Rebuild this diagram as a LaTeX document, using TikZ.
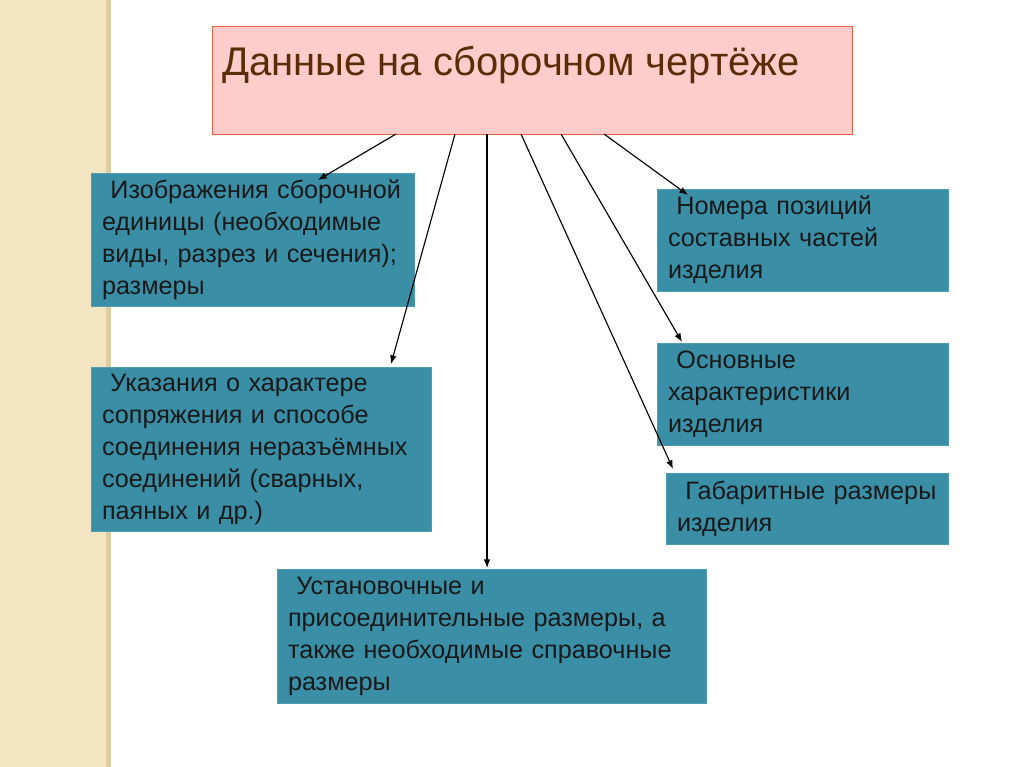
\documentclass[tikz,border=0pt]{standalone}
\usepackage{fontspec}
\setmainfont{Liberation Sans}
\usetikzlibrary{arrows.meta}
\definecolor{boxteal}{HTML}{3A8FA6}
\definecolor{boxedge}{HTML}{4C9CB2}
\definecolor{toppink}{HTML}{FFCCCC}
\definecolor{topedge}{HTML}{E5643F}
\definecolor{titlebrown}{HTML}{5B2C06}
\definecolor{stripbeige}{HTML}{F3E4C2}
\definecolor{stripedge}{HTML}{DDCCA2}
\begin{document}
\begin{tikzpicture}[x=0.75pt,y=-0.75pt,
  infobox/.style={fill=boxteal, draw=boxedge, line width=0.6pt, inner xsep=8.25pt, inner ysep=0pt,
    align=left, text=black!90, font=\fontsize{18.9pt}{24pt}\selectfont},
  topbox/.style={fill=toppink, draw=topedge, line width=0.75pt},
  titletext/.style={inner sep=0pt, text=titlebrown, font=\fontsize{30pt}{36pt}\selectfont},
  arr/.style={draw=black, line width=0.85pt, -{Latex[length=6.5pt,width=5pt]}}]
\useasboundingbox (0,0) rectangle (1024,767);
\fill[white] (0,0) rectangle (1024,767);
\fill[stripbeige] (0,0) rectangle (106,767);
\fill[stripedge] (106,0) rectangle (111,767);

% top box
\node[topbox, minimum width=480pt, minimum height=80.25pt] (top) at (532,80.5) {};
\node[titletext, anchor=base west] (title) at (222,75) {Данные на сборочном чертёже};

% boxes
\node[infobox, minimum width=242.25pt, minimum height=99.75pt, text width=225.75pt] (b1) at (252.5,239.5)
 {~Изображения сборочной\\единицы (необходимые\\виды, разрез и сечения);\\размеры};
\node[infobox, minimum width=255pt, minimum height=123pt, text width=238.5pt] (b2) at (261,449)
 {~Указания о характере\\сопряжения и способе\\соединения неразъёмных\\соединений (сварных,\\паяных и др.)};
\node[infobox, minimum width=321.75pt, minimum height=100.5pt, text width=305.25pt] (b3) at (491.5,636)
 {~Установочные и\\присоединительные размеры, а\\также необходимые справочные\\размеры};
\node[infobox, minimum width=218.25pt, minimum height=76.5pt, text width=201.75pt] (b4) at (802.5,240)
 {~Номера позиций\\составных частей\\изделия};
\node[infobox, minimum width=218.25pt, minimum height=76.5pt, text width=201.75pt] (b5) at (802.5,394)
 {~Основные\\характеристики\\изделия};
\node[infobox, minimum width=211.5pt, minimum height=53.25pt, text width=195pt] (b6) at (807,508.5)
 {~Габаритные размеры\\изделия};

% connector end points
\coordinate (s1) at (396,134);
\coordinate (s2) at (455,134);
\coordinate (s3) at (487,134);
\coordinate (s4) at (521,134);
\coordinate (s5) at (561,134);
\coordinate (s6) at (604,134);
\coordinate (e1) at (318,180);
\coordinate (e2) at (391,364);
\coordinate (e3) at (487,568);
\coordinate (e4) at (673,469);
\coordinate (e5) at (682,342);
\coordinate (e6) at (688,195);

\draw[arr] (s1) -- (e1);
\draw[arr] (s2) -- (e2);
\draw[arr] (s3) -- (e3);
\draw[arr] (s4) -- (e4);
\draw[arr] (s5) -- (e5);
\draw[arr] (s6) -- (e6);
\end{tikzpicture}
\end{document}
